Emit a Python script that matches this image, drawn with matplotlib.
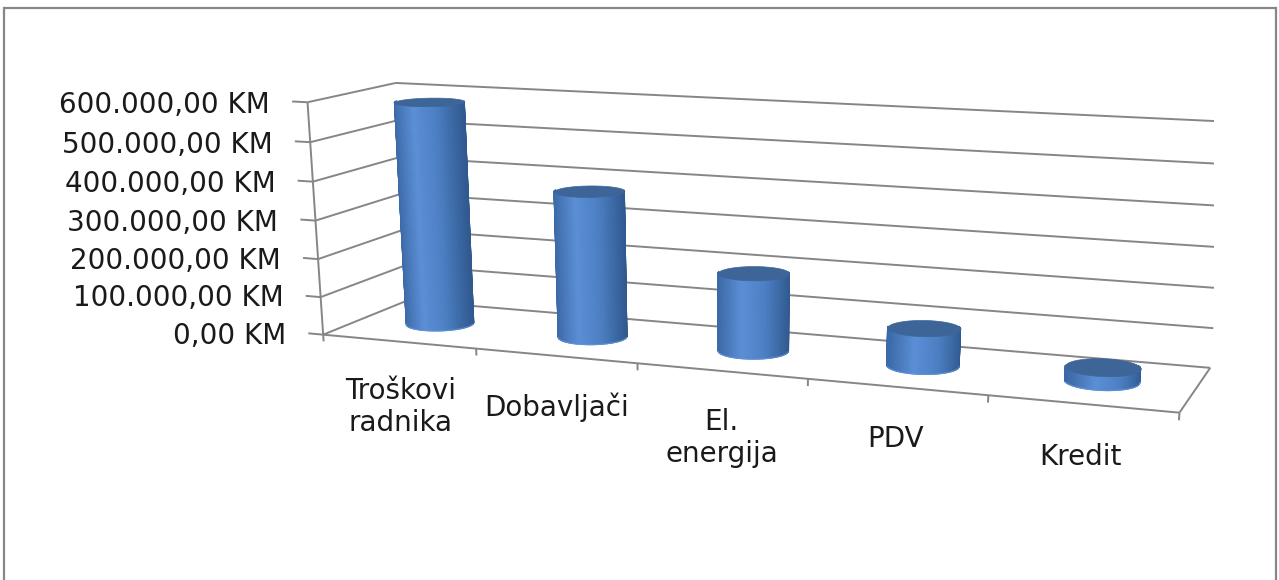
import numpy as np
import matplotlib
matplotlib.use('Agg')
import matplotlib.pyplot as plt
from matplotlib.colors import to_rgb
from matplotlib.patches import Rectangle
from mpl_toolkits.mplot3d import proj3d
from mpl_toolkits.mplot3d.art3d import Poly3DCollection

# Cost categories and amounts (KM)
categories = ["Troškovi\nradnika", "Dobavljači", "El.\nenergija", "PDV", "Kredit"]
amounts = [585000, 380000, 200000, 95000, 35000]
value_ticks = [0, 100000, 200000, 300000, 400000, 500000, 600000]


def km_label(v):
    s = f"{v:,.2f}".replace(",", " ").replace(".", ",").replace(" ", ".")
    return f"{s} KM"


W, H = 1279, 580
fig = plt.figure(figsize=(W / 100, H / 100), dpi=100)
fig.patch.set_facecolor("white")

# outer chart frame
fig.add_artist(Rectangle((4 / W, -0.05), 1272 / W, 1.05 - 7.5 / H,
                         transform=fig.transFigure, fill=False,
                         edgecolor="#878787", linewidth=1.6))

ax = fig.add_axes([0.20964, -0.016056, 0.739215, 1.194633], projection="3d")
# let the 3D box fill a wide, non-square panel
ax.apply_aspect = lambda position=None: None
ax.set_axis_off()
ax.computed_zorder = False

n = len(categories)
zmax = value_ticks[-1]
ELEV, AZIM, ROLL = 14.393, -69.847, -0.111
ax.set_xlim(0, n)
ax.set_ylim(0, 1)
ax.set_zlim(0, zmax)
ax.view_init(ELEV, AZIM, ROLL)
ax.set_proj_type("persp", focal_length=0.4284)
ax.set_box_aspect((1, 0.2019, 0.3758))
M = ax.get_proj()

grid_kw = dict(color="#868686", linewidth=1.4, solid_capstyle="butt", zorder=1)
text_kw = dict(fontsize=20, color="#1a1a1a")


def label3d(x, y, z, s, **kw):
    # place flat text at the projected position of a 3D point
    px, py, _ = proj3d.proj_transform(x, y, z, M)
    ax.text2D(px, py, s, transform=ax.transData, **kw)


# back wall and left wall gridlines
for v in value_ticks:
    ax.plot([0, n], [1, 1], [v, v], **grid_kw)
    ax.plot([0, 0], [0, 1], [v, v], **grid_kw)
# left wall front edge (value axis)
ax.plot([0, 0], [0, 0], [0, zmax], **grid_kw)
# floor front and right edges
ax.plot([0, n], [0, 0], [0, 0], **grid_kw)
ax.plot([n, n], [0, 1], [0, 0], **grid_kw)

# value axis ticks and labels
for v in value_ticks:
    ax.plot([-0.1, 0], [0, 0], [v, v], **grid_kw)
    label3d(-0.25, 0, v - 12000, km_label(v), ha="right", va="center", **text_kw)

# category axis ticks and labels
for i in range(n + 1):
    ax.plot([i, i], [0, 0], [0, -18000], **grid_kw)
for i, name in enumerate(categories):
    label3d(i + 0.5, 0, -95000, name, ha="center", va="top",
            linespacing=1.15, **text_kw)

# cylinder shading: view-relative gradient around the circumference
stops_s = [-1.0, -0.3, 0.35, 1.0]
stops_c = np.array([to_rgb(c) for c in ["#3b68a6", "#5b8fd6", "#4a7dc0", "#30598f"]])
az = np.deg2rad(AZIM)
right = np.array([-np.sin(az), np.cos(az)])
toward = np.array([np.cos(az), np.sin(az)])

r_x = 0.2
r_y = 0.2 * (0.2 / 0.2019)
theta = np.linspace(0, 2 * np.pi, 97)
mid = 0.5 * (theta[:-1] + theta[1:])
normals = np.column_stack([np.cos(mid), np.sin(mid)])
visible = normals @ toward > -0.2
face = normals @ right
cols = np.column_stack([np.interp(face, stops_s, stops_c[:, k]) for k in range(3)])
# front half of the base outline, facing the viewer
phi = np.linspace(az - 1.45, az + 1.45, 60)

for i, v in enumerate(amounts):
    xc, yc = i + 0.5, 0.5
    xs = xc + r_x * np.cos(theta)
    ys = yc + r_y * np.sin(theta)
    sides = [[(xs[j], ys[j], 0), (xs[j + 1], ys[j + 1], 0),
              (xs[j + 1], ys[j + 1], v), (xs[j], ys[j], v)]
             for j in range(len(theta) - 1) if visible[j]]
    side = Poly3DCollection(sides, facecolors=cols[visible], edgecolors=cols[visible],
                            linewidths=0.8, zorder=3 + 3 * i)
    ax.add_collection3d(side)
    # soft light rim along the front of the base
    ax.plot(xc + r_x * np.cos(phi), yc + r_y * np.sin(phi), np.zeros_like(phi),
            color="#5f93d8", linewidth=0.9, alpha=0.8, zorder=4 + 3 * i)
    top = Poly3DCollection([list(zip(xs, ys, np.full_like(xs, v)))],
                           facecolor="#3d6598", edgecolor="#3d6598",
                           linewidth=0.5, zorder=5 + 3 * i)
    ax.add_collection3d(top)

fig.savefig("out.png", dpi=100, facecolor="white")
